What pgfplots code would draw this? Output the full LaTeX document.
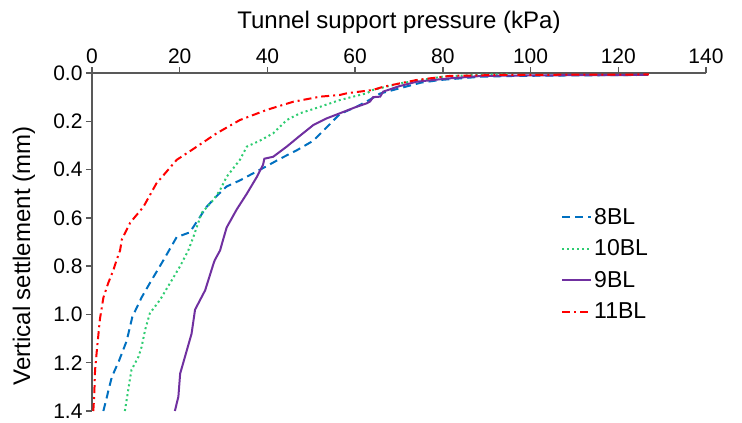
\documentclass[border=0pt]{standalone}
\usepackage{fontspec}
\setmainfont{Liberation Sans}
\usepackage{pgfplots}
\pgfplotsset{compat=1.18}
\definecolor{c8}{HTML}{0070C0}
\definecolor{c10}{HTML}{2ECC71}
\definecolor{c9}{HTML}{7030A0}
\definecolor{c11}{HTML}{FF0000}
\definecolor{axgray}{HTML}{595959}
\begin{document}
\begin{tikzpicture}
\useasboundingbox (-92bp,-12bp) rectangle (650bp,411bp);
\begin{axis}[
  at={(0,0)}, anchor=south west,
  scale only axis, width=614bp, height=338bp,
  xmin=0, xmax=140, ymin=0, ymax=1.4,
  y dir=reverse,
  axis x line*=top, axis y line*=left,
  axis line style={-, draw=axgray, line width=1.3bp},
  tick style={draw=axgray, line width=1.3bp},
  tick align=outside, major tick length=6bp,
  xtick={0,20,...,140},
  ytick={0,0.2,...,1.4},
  yticklabel style={/pgf/number format/.cd, fixed, fixed zerofill, precision=1},
  /pgf/number format/assume math mode=true,
  ticklabel style={font=\fontsize{21bp}{25bp}\selectfont},
  label style={font=\fontsize{24bp}{28bp}\selectfont},
  xlabel={Tunnel support pressure (kPa)},
  ylabel={Vertical settlement (mm)},
  xlabel style={at={(axis description cs:0.5,1)}, anchor=base, yshift=45bp},
  ylabel style={at={(axis description cs:-0.1107,0.4586)}, anchor=center},
  legend style={draw=none, fill=none, at={(axis description cs:0.759,0.612)}, anchor=north west,
    font=\fontsize{23bp}{27bp}\selectfont, row sep=10bp},
  legend cell align=left,
  legend image code/.code={\draw[#1] (0bp,0bp) -- (29bp,0bp);},
  every axis plot/.append style={line width=2bp},
]
\addplot[c8, dash pattern=on 8bp off 5bp] coordinates {
(2.6,1.40) (4.5,1.26) (6.2,1.19) (7.9,1.11) (9.2,1.01) (11.3,0.93) (13.2,0.87)
(16.3,0.775) (19.3,0.68) (22.3,0.66) (26.1,0.555) (28.4,0.51) (30.7,0.47)
(33.7,0.445) (36.8,0.415) (39.4,0.39) (42.9,0.355) (46.7,0.32) (50.5,0.28)
(53.5,0.225) (56.5,0.17) (60.3,0.14) (63.4,0.11) (65.7,0.085) (70.2,0.063)
(75,0.04) (79.3,0.029) (89,0.015) (96.8,0.012) (110,0.01) (126.5,0.008)
};
\addlegendentry{8BL}
\addplot[c10, dash pattern=on 2bp off 3bp] coordinates {
(7.5,1.40) (8.5,1.285) (9.0,1.23) (10.6,1.175) (11.3,1.135) (12.1,1.065)
(13.2,0.995) (15.5,0.94) (17.8,0.87) (20.1,0.80) (20.8,0.775) (22.0,0.733)
(23.1,0.68) (25.0,0.58) (27.7,0.525) (29.2,0.485) (30.7,0.43) (33.7,0.36)
(35.3,0.305) (38.3,0.28) (41.3,0.25) (44.4,0.195) (47.4,0.167) (52,0.14)
(56.5,0.112) (62.6,0.084) (64.1,0.07) (70.2,0.043) (80,0.015) (88,0.007) (95,0.005)
};
\addlegendentry{10BL}
\addplot[c9, solid] coordinates {
(18.9,1.40) (19.7,1.34) (20.1,1.245) (21.6,1.15) (22.7,1.08) (23.5,0.98)
(25.8,0.90) (27.7,0.79) (28.0,0.775) (29.2,0.735) (29.9,0.69) (30.7,0.64)
(33.0,0.565) (35.3,0.50) (37.6,0.43) (39.0,0.38) (39.3,0.355) (41.3,0.347)
(44.4,0.305) (47.4,0.26) (50.5,0.215) (53.5,0.188) (56.5,0.167) (60.3,0.14)
(62.6,0.126) (63.4,0.118) (64.1,0.10) (65.7,0.098) (66.4,0.077) (70,0.055)
(74,0.036) (81.6,0.022) (89,0.012) (100,0.01) (110,0.009) (126.8,0.008)
};
\addlegendentry{9BL}
\addplot[c11, dash pattern=on 8bp off 4bp on 2bp off 4bp] coordinates {
(0.3,1.40) (0.5,1.34) (0.7,1.23) (1.1,1.15) (1.8,1.02) (2.6,0.93) (3.7,0.87)
(4.9,0.815) (5.6,0.775) (6.4,0.735) (6.8,0.69) (8.7,0.62) (11.7,0.555)
(14.7,0.457) (19.3,0.36) (23.9,0.305) (28.4,0.25) (33.7,0.195) (39.8,0.153)
(45.9,0.119) (52,0.098) (56.5,0.091) (58.1,0.084) (64.1,0.07) (66.4,0.057)
(74,0.029) (81.6,0.012) (93,0.008) (110,0.007) (127,0.006)
};
\addlegendentry{11BL}
\end{axis}
\end{tikzpicture}
\end{document}
